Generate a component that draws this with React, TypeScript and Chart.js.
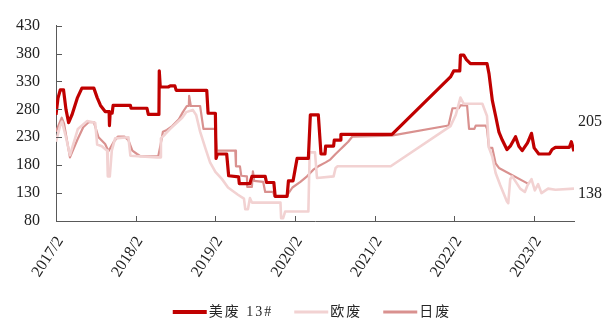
import React, { useEffect, useRef } from "react";
import { Chart, registerables } from "chart.js";

Chart.register(...registerables);

// ---- Data (x = months since 2017/2) ----
const xTickLabels = ["2017/2", "2018/2", "2019/2", "2020/2", "2021/2", "2022/2", "2023/2"];
const yTickValues = [80, 130, 180, 230, 280, 330, 380, 430];
const seriesNames = ["美废 13#", "欧废", "日废"];

const usMonths = [0, 0.3, 0.65, 1.13, 1.5, 1.9, 2.4, 3.2, 3.9, 5.7, 6.2, 6.7, 7.4, 8.0, 8.05, 8.15, 8.45, 8.6, 11.2, 11.3, 13.7, 13.9, 15.5, 15.55, 15.7, 16.9, 17.2, 17.9, 18.1, 22.7, 22.9, 24.0, 24.1, 24.3, 25.7, 26.0, 27.5, 27.6, 29.2, 29.5, 31.5, 31.7, 32.8, 33.0, 34.8, 35.0, 35.7, 36.0, 36.3, 38.0, 38.3, 39.5, 39.9, 40.5, 40.6, 41.8, 41.9, 42.8, 42.9, 50.6, 59.4, 59.9, 60.8, 60.9, 61.4, 61.8, 62.4, 64.9, 65.2, 65.7, 66.2, 66.7, 67.2, 67.9, 68.4, 69.2, 69.7, 70.2, 71.0, 71.6, 72.0, 72.7, 74.3, 74.7, 75.2, 77.3, 77.6, 78.0];
const usValues = [270, 300, 315, 315, 280, 256, 270, 300, 318, 318, 301, 287, 276, 276, 251, 273, 273, 287, 287, 282, 282, 271, 271, 349, 320, 320, 322, 322, 314, 314, 273, 273, 192, 200, 200, 161, 159, 147, 147, 160, 160, 149, 149, 124, 124, 152, 152, 172, 192, 192, 270, 270, 200, 200, 214, 214, 225, 225, 235, 235, 338, 349, 349, 377, 377, 369, 362, 362, 344, 296, 268, 239, 225, 208, 214, 231, 214, 206, 220, 237, 211, 200, 200, 208, 212, 212, 222, 205];

const euMonths = [0, 0.6, 0.9, 1.5, 2.1, 3.3, 4.7, 5.9, 6.2, 6.9, 7.7, 7.8, 8.1, 8.4, 8.9, 10.9, 11.2, 15.2, 15.7, 15.8, 16.4, 17.2, 18.1, 19.0, 19.6, 20.6, 21.1, 21.7, 22.5, 23.2, 24.0, 25.0, 25.9, 27.4, 28.3, 28.5, 28.9, 29.2, 29.5, 33.8, 33.9, 34.2, 34.5, 38.0, 38.2, 39.0, 39.3, 41.8, 42.1, 42.4, 50.4, 59.4, 60.2, 60.9, 61.4, 64.2, 64.9, 65.2, 65.7, 66.2, 66.9, 67.9, 68.1, 68.4, 68.7, 69.9, 70.6, 71.0, 71.6, 72.1, 72.6, 73.1, 74.1, 75.2, 78.0];
const euValues = [222, 250, 258, 230, 198, 245, 259, 256, 217, 214, 206, 160, 160, 206, 228, 230, 197, 194, 194, 228, 235, 245, 255, 265, 275, 279, 270, 240, 210, 185, 168, 155, 140, 127, 120, 101, 101, 121, 113, 113, 85, 85, 97, 97, 203, 203, 157, 160, 175, 178, 178, 250, 270, 301, 290, 290, 268, 211, 195, 166, 144, 115, 112, 155, 160, 138, 132, 144, 155, 135, 146, 130, 138, 136, 138];

const jpMonths = [0, 0.86, 1.2, 2.1, 3.2, 4.1, 4.9, 5.7, 6.4, 7.4, 7.9, 8.7, 9.3, 10.3, 10.9, 11.5, 12.2, 12.7, 15.4, 15.8, 16.1, 16.7, 17.5, 18.5, 19.1, 19.7, 20.0, 20.05, 20.3, 21.7, 22.2, 24.0, 24.2, 27.0, 27.1, 27.7, 27.9, 28.75, 28.8, 29.5, 29.65, 29.85, 31.2, 31.5, 32.7, 32.9, 34.7, 35.6, 36.8, 37.8, 38.75, 39.5, 40.6, 41.3, 42.1, 42.8, 43.4, 44.0, 44.6, 50.5, 59.1, 59.7, 60.65, 60.9, 61.9, 62.2, 63.0, 63.2, 64.7, 64.9, 65.2, 65.7, 66.2, 66.7, 71.2];
const jpValues = [240, 265, 255, 194, 225, 248, 257, 257, 230, 218, 205, 222, 231, 231, 225, 206, 200, 196, 196, 220, 240, 243, 250, 262, 275, 286, 286, 304, 286, 286, 245, 245, 206, 206, 178, 178, 161, 160, 141, 141, 169, 152, 150, 132, 132, 124, 124, 140, 150, 160, 172, 178, 185, 190, 200, 208, 215, 222, 231, 233, 251, 282, 282, 287, 287, 245, 245, 251, 251, 245, 211, 211, 183, 175, 146];

const COLORS = ["#C00000", "#F2D2D2", "#D9918F"];
const WIDTHS = [3.2, 2.6, 2.2];
const LEGEND_WIDTHS = [4, 3, 3];
const SERIF = "'Times New Roman', 'Liberation Serif', 'Noto Sans CJK SC', serif";

const toPoints = (xs: number[], ys: number[]) => xs.map((x, i) => ({ x, y: ys[i] }));

const decorPlugin = {
  id: "decor",
  afterDraw(chart: any) {
    const { ctx, chartArea, scales } = chart;
    const x = scales.x;
    const y = scales.y;
    ctx.save();
    // inward tick marks
    ctx.strokeStyle = "#595959";
    ctx.lineWidth = 1;
    ctx.beginPath();
    y.ticks.forEach((t: any) => {
      const py = Math.round(y.getPixelForValue(t.value)) + 0.5;
      ctx.moveTo(chartArea.left, py);
      ctx.lineTo(chartArea.left + 6, py);
    });
    x.ticks.forEach((t: any) => {
      const px = Math.round(x.getPixelForValue(t.value)) + 0.5;
      ctx.moveTo(px, chartArea.bottom);
      ctx.lineTo(px, chartArea.bottom - 5);
    });
    ctx.stroke();

    // end-value labels
    ctx.fillStyle = "#222";
    ctx.font = `16px ${SERIF}`;
    ctx.textAlign = "left";
    ctx.textBaseline = "middle";
    const usLast = usValues[usValues.length - 1];
    const euLast = euValues[euValues.length - 1];
    const lx = x.getPixelForValue(usMonths[usMonths.length - 1]) + 4;
    ctx.fillText(String(usLast), lx, y.getPixelForValue(usLast) - 29);
    ctx.fillText(String(euLast), lx, y.getPixelForValue(euLast) + 5);

    // legend
    ctx.font = `14px ${SERIF}`;
    (ctx as any).letterSpacing = "2px";
    ctx.fillStyle = "#262626";
    const lineLen = 34;
    const gapText = 2;
    const gapItem = 21;
    const textW = seriesNames.map((n) => ctx.measureText(n).width);
    const total = textW.reduce((a, w) => a + lineLen + gapText + w, 0) + gapItem * (seriesNames.length - 1);
    let lxp = chart.width / 2 + 4 - total / 2;
    const ly = chart.height - 10;
    seriesNames.forEach((name, i) => {
      ctx.strokeStyle = COLORS[i];
      ctx.lineWidth = LEGEND_WIDTHS[i];
      ctx.beginPath();
      ctx.moveTo(lxp, ly);
      ctx.lineTo(lxp + lineLen, ly);
      ctx.stroke();
      ctx.fillText(name, lxp + lineLen + gapText, ly);
      lxp += lineLen + gapText + textW[i] + gapItem;
    });
    ctx.restore();
  },
};

export default function App() {
  const ref = useRef<HTMLCanvasElement | null>(null);
  useEffect(() => {
    if (!ref.current) return;
    const chart = new Chart(ref.current, {
      type: "line",
      data: {
        datasets: [
          { label: seriesNames[0], data: toPoints(usMonths, usValues) },
          { label: seriesNames[1], data: toPoints(euMonths, euValues) },
          { label: seriesNames[2], data: toPoints(jpMonths, jpValues) },
        ].map((d, i) => ({
          ...d,
          borderColor: COLORS[i],
          backgroundColor: COLORS[i],
          borderWidth: WIDTHS[i],
          pointRadius: 0,
          tension: 0,
          fill: false,
          borderJoinStyle: "round" as const,
        })),
      },
      options: {
        responsive: false,
        animation: false,
        devicePixelRatio: 1,
        layout: { padding: { top: 14, right: 42, left: 0, bottom: 0 } },
        plugins: {
          tooltip: { enabled: false },
          legend: { display: false },
        },
        scales: {
          x: {
            type: "linear",
            min: 0,
            max: 78,
            grid: { display: false, drawTicks: false },
            border: { display: true, color: "#595959", width: 1 },
            ticks: {
              stepSize: 12,
              includeBounds: false,
              autoSkip: false,
              minRotation: 57,
              maxRotation: 57,
              padding: 12,
              labelOffset: 4,
              color: "#222",
              font: { size: 16, family: SERIF },
              callback: (v: any) => xTickLabels[Math.round(Number(v) / 12)] ?? "",
            },
            afterFit: (s: any) => { s.height = 101; },
          },
          y: {
            min: 80,
            max: 430,
            grid: { display: false, drawTicks: false },
            border: { display: true, color: "#595959", width: 1 },
            afterBuildTicks: (s: any) => { s.ticks = yTickValues.map((value) => ({ value })); },
            ticks: {
              padding: 16,
              color: "#222",
              font: { size: 16, family: SERIF },
            },
            afterFit: (s: any) => { s.width = 56; },
          },
        },
      },
      plugins: [decorPlugin],
    });
    return () => chart.destroy();
  }, []);
  return (
    <div style={{ position: "absolute", left: 0, top: 0, width: 616, height: 322, background: "#fff" }}>
      <canvas ref={ref} width={616} height={322} />
    </div>
  );
}
